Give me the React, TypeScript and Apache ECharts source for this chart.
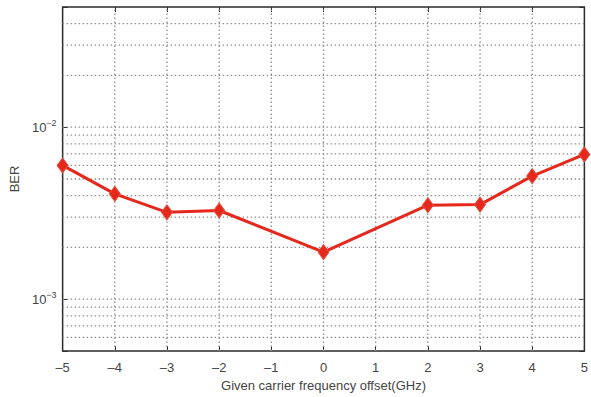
import React, { useEffect, useRef } from "react";
import * as echarts from "echarts";

const offsets = [-5, -4, -3, -2, 0, 2, 3, 4, 5];
const ber = [6.0e-3, 4.1e-3, 3.2e-3, 3.28e-3, 1.88e-3, 3.52e-3, 3.55e-3, 5.2e-3, 6.95e-3];
const xGridValues = [-4, -3, -2, -1, 0, 1, 2, 3, 4];
const yGridValues = [
  6e-4, 7e-4, 8e-4, 9e-4, 1e-3, 2e-3, 3e-3, 4e-3, 5e-3, 6e-3, 7e-3, 8e-3, 9e-3,
  1e-2, 2e-2, 3e-2, 4e-2,
];
const yMajorLabels = [1e-3, 1e-2];
const X_MIN = -5;
const X_MAX = 5;
const Y_MIN = 5e-4;
const Y_MAX = 5e-2;

const FONT = "'Liberation Sans', Arial, Helvetica, sans-serif";

export default function App() {
  const ref = useRef<HTMLDivElement>(null);
  useEffect(() => {
    if (!ref.current) return;
    const chart = echarts.init(ref.current, null, { renderer: "svg" });
    const gridStyle = { stroke: "#8f8f8f", lineWidth: 1.3, lineDash: [1.5, 2.5] };
    const isMajor = (v: number) => yMajorLabels.some((m) => Math.abs(m - v) / m < 1e-6);
    const tick = { show: true, inside: true, length: 5, lineStyle: { color: "#2b2b2b" } };
    // grid lines: kind 0 = vertical at x, kind 1 = horizontal at y
    const gridData = [
      ...xGridValues.map((x) => [x, Y_MIN, 0]),
      ...yGridValues.map((y) => [X_MIN, y, 1]),
    ];
    chart.setOption({
      animation: false,
      backgroundColor: "#ffffff",
      textStyle: { fontFamily: FONT },
      grid: {
        left: 61,
        top: 7,
        right: 5,
        bottom: 46,
        show: true,
        borderColor: "#2b2b2b",
        borderWidth: 1.5,
        backgroundColor: "#ffffff",
      },
      xAxis: [
        {
          type: "value",
          min: X_MIN,
          max: X_MAX,
          interval: 1,
          name: "Given carrier frequency offset(GHz)",
          nameLocation: "middle",
          nameGap: 24,
          nameTextStyle: { fontSize: 13, color: "#444", fontFamily: FONT },
          axisLine: { show: false, onZero: false },
          axisTick: tick,
          axisLabel: {
            fontSize: 13,
            color: "#444",
            margin: 10,
            fontFamily: FONT,
            formatter: (v: number) => (v < 0 ? "\u2013" + Math.abs(v) : String(v)),
          },
          splitLine: { show: false },
        },
        {
          type: "value",
          position: "top",
          min: X_MIN,
          max: X_MAX,
          interval: 1,
          axisLine: { show: false, onZero: false },
          axisTick: tick,
          axisLabel: { show: false },
          splitLine: { show: false },
        },
      ],
      yAxis: [
        {
          type: "log",
          logBase: 10,
          min: Y_MIN,
          max: Y_MAX,
          name: "BER",
          nameLocation: "middle",
          nameGap: 41,
          nameTextStyle: { fontSize: 13, color: "#444", fontFamily: FONT },
          axisLine: { show: false, onZero: false },
          axisTick: tick,
          axisLabel: {
            margin: 6,
            fontFamily: FONT,
            formatter: (v: number) => {
              if (!isMajor(v)) return "";
              const e = Math.round(Math.log10(v));
              return "{b|10}{s|\u2212" + Math.abs(e) + "}";
            },
            rich: {
              b: { fontSize: 13, color: "#444", fontFamily: FONT },
              s: { fontSize: 9, color: "#444", fontFamily: FONT, padding: [0, 0, 9, 0] },
            },
          },
          splitLine: { show: false },
        },
        {
          type: "log",
          logBase: 10,
          min: Y_MIN,
          max: Y_MAX,
          position: "right",
          axisLine: { show: false, onZero: false },
          axisTick: tick,
          axisLabel: { show: false },
          splitLine: { show: false },
        },
      ],
      series: [
        {
          type: "custom",
          xAxisIndex: 0,
          yAxisIndex: 0,
          silent: true,
          z: 1,
          data: gridData,
          renderItem: (params: any, api: any) => {
            const a = api.value(0);
            const b = api.value(1);
            const kind = api.value(2);
            const p1 = kind === 0 ? api.coord([a, Y_MIN]) : api.coord([X_MIN, b]);
            const p2 = kind === 0 ? api.coord([a, Y_MAX]) : api.coord([X_MAX, b]);
            return {
              type: "line",
              shape: { x1: p1[0], y1: p1[1], x2: p2[0], y2: p2[1] },
              style: gridStyle,
            };
          },
        },
        {
          type: "line",
          data: offsets.map((x, i) => [x, ber[i]]),
          xAxisIndex: 0,
          yAxisIndex: 0,
          symbol: "diamond",
          symbolSize: [11, 15],
          lineStyle: { color: "#e5281c", width: 3 },
          itemStyle: { color: "#e5281c", borderColor: "#e84a3a", borderWidth: 1 },
          z: 5,
        },
      ],
    });
    return () => chart.dispose();
  }, []);
  return <div ref={ref} style={{ width: 591, height: 397, position: "absolute", left: 0, top: 0 }} />;
}
